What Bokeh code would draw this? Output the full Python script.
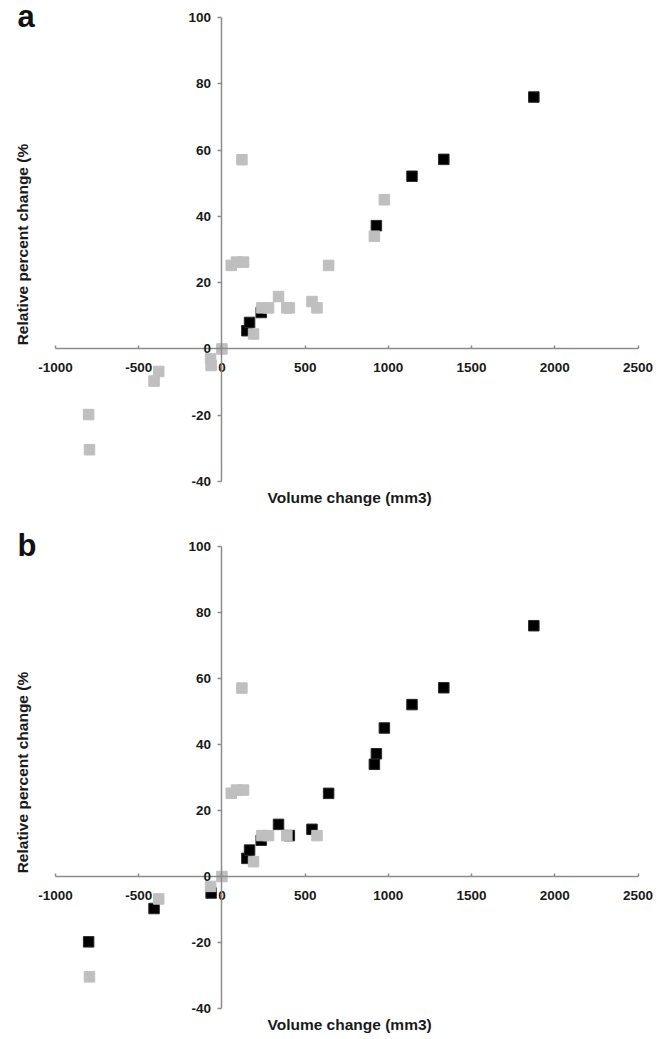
from bokeh.plotting import figure
from bokeh.models import LinearAxis, FixedTicker, Range1d, Label
from bokeh.layouts import column
from bokeh.embed import file_html
from bokeh.resources import INLINE

# ---- data ----
x_ticks = [-1000, -500, 0, 500, 1000, 1500, 2000, 2500]
y_ticks = [-40, -20, 0, 20, 40, 60, 80, 100]

a_black_x = [150, 166, 236, 928, 1142, 1333, 1874]
a_black_y = [5.5, 8, 11, 37.2, 52.1, 57.2, 76]
a_gray_x = [120, 56, 87, 130, 641, 340, 240, 280, 390, 405, 541, 571, 190, 0,
            -68, -65, -380, -408, -801, -796, 976, 916]
a_gray_y = [57.1, 25.2, 26.2, 26.2, 25.2, 15.8, 12.4, 12.4, 12.4, 12.4, 14.3, 12.4, 4.5, 0,
            -3, -5, -6.8, -9.7, -19.8, -30.4, 45, 34]

b_black_x = [150, 166, 236, 928, 1142, 1333, 1874,
             976, 916, 641, 340, 541, -65, -408, -801, 405]
b_black_y = [5.5, 8, 11, 37.2, 52.1, 57.2, 76,
             45, 34, 25.2, 15.8, 14.3, -5, -9.7, -19.8, 12.4]
b_gray_x = [120, 56, 87, 130, 240, 280, 390, 571, 190, 0, -68, -380, -796]
b_gray_y = [57.1, 25.2, 26.2, 26.2, 12.4, 12.4, 12.4, 12.4, 4.5, 0, -3, -6.8, -30.4]

panels = ["a", "b"]
x_title = "Volume change (mm3)"
y_title = "Relative percent change (%"

FONT = "Liberation Sans"
AXIS_COLOR = "#8c8c8c"
TEXT_COLOR = "#1a1a1a"
GRAY = "#bfbfbf"


def make_panel(letter, bx, by, gx, gy, height, y_start, y_end):
    p = figure(width=660, height=height, output_backend="svg", toolbar_location=None,
               x_axis_type=None, y_axis_type=None,
               x_range=Range1d(-1330.5, 2635.1), y_range=Range1d(y_start, y_end),
               min_border_left=0, min_border_right=0,
               min_border_top=0, min_border_bottom=0)
    p.outline_line_color = None
    p.xgrid.visible = False
    p.ygrid.visible = False

    xa = LinearAxis(fixed_location=0, ticker=FixedTicker(ticks=x_ticks),
                    bounds=(x_ticks[0], x_ticks[-1]))
    ya = LinearAxis(fixed_location=0, ticker=FixedTicker(ticks=y_ticks),
                    bounds=(y_ticks[0], y_ticks[-1]))
    xa.major_label_overrides = {t: str(t) for t in x_ticks}
    ya.major_label_overrides = {t: str(t) for t in y_ticks}
    for ax in (xa, ya):
        ax.axis_line_color = AXIS_COLOR
        ax.axis_line_width = 1.5
        ax.major_tick_line_color = AXIS_COLOR
        ax.major_tick_line_width = 1.5
        ax.minor_tick_line_color = None
        ax.major_label_text_font = FONT
        ax.major_label_text_font_style = "bold"
        ax.major_label_text_font_size = "13.5px"
        ax.major_label_text_color = TEXT_COLOR
    xa.major_tick_in = 3
    xa.major_tick_out = 0
    xa.major_label_standoff = 14
    ya.major_tick_in = 0
    ya.major_tick_out = 4
    ya.major_label_standoff = 7
    p.add_layout(xa, "below")
    p.add_layout(ya, "left")

    p.scatter(x=bx, y=by, marker="square", size=10.5,
              fill_color="#000000", line_color="#2a2a2a", line_width=1)
    p.scatter(x=gx, y=gy, marker="square", size=10.5,
              fill_color=GRAY, line_color=GRAY, line_width=1)

    p.add_layout(Label(x=767, y=-44.8, text=x_title, text_align="center",
                       text_baseline="middle", text_font=FONT, text_font_style="bold",
                       text_font_size="15.5px", text_color=TEXT_COLOR))
    p.add_layout(Label(x=-1198, y=31.5, text=y_title, angle=1.5708, text_align="center",
                       text_baseline="middle", text_font=FONT, text_font_style="bold",
                       text_font_size="15.5px", text_color=TEXT_COLOR))
    p.add_layout(Label(x=-1228, y=100.2, text=letter, text_align="left",
                       text_baseline="alphabetic", text_font=FONT, text_font_style="bold",
                       text_font_size="31px", text_color="#111111"))
    return p


pa = make_panel(panels[0], a_black_x, a_black_y, a_gray_x, a_gray_y, 520, -51.76, 105.13)
pb = make_panel(panels[1], b_black_x, b_black_y, b_gray_x, b_gray_y, 516, -48.48, 107.88)

layout = column(pa, pb, spacing=0)
open("out.html", "w").write(file_html(layout, INLINE))
